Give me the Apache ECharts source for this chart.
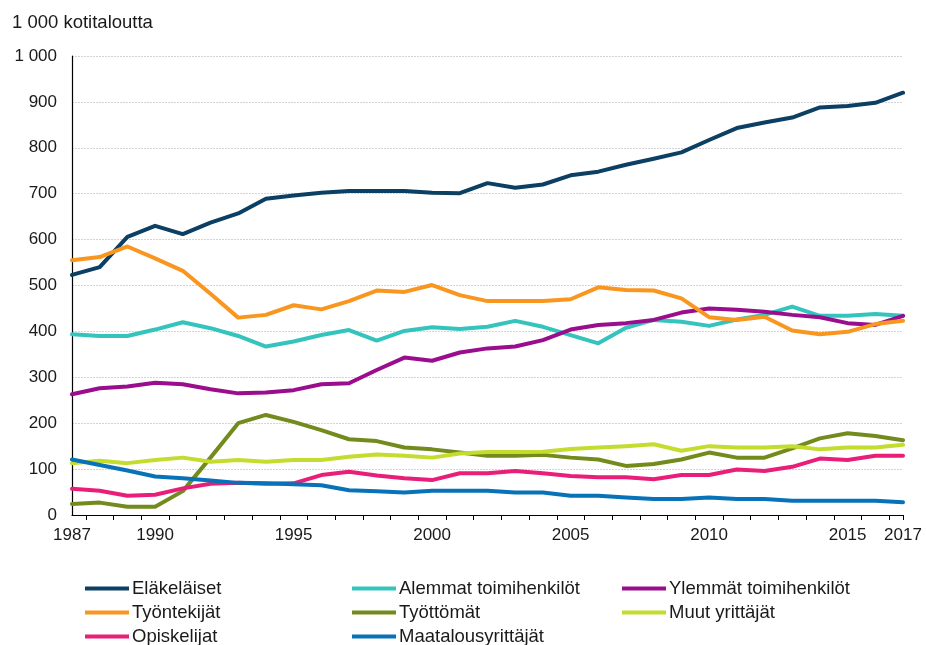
<!DOCTYPE html>
<html>
<head>
<meta charset="utf-8">
<script src="https://cdn.jsdelivr.net/npm/echarts@6/dist/echarts.min.js"></script>
<style>
html,body{margin:0;padding:0;background:#fff;}
#chart{width:926px;height:645px;}
</style>
</head>
<body>
<div id="chart"></div>
<script>
// ---- Data ----
var years = [1987,1988,1989,1990,1991,1992,1993,1994,1995,1996,1997,1998,1999,2000,2001,2002,2003,2004,2005,2006,2007,2008,2009,2010,2011,2012,2013,2014,2015,2016,2017];
var xLabelYears = [1987,1990,1995,2000,2005,2010,2015,2017];
var yTicks = [0,100,200,300,400,500,600,700,800,900,1000];
var unitLabel = '1 000 kotitaloutta';

var seriesNames = ['Eläkeläiset','Alemmat toimihenkilöt','Ylemmät toimihenkilöt','Työntekijät','Työttömät','Muut yrittäjät','Opiskelijat','Maatalousyrittäjät'];

var elakelaiset = [523,540,606,630,612,637,657,689,696,702,706,706,706,702,701,723,713,720,740,748,763,776,790,817,843,855,866,888,891,898,920];
var alemmat     = [394,390,390,404,420,407,390,367,378,392,403,380,401,409,405,410,423,410,392,374,408,425,421,412,426,436,454,434,434,438,434];
var ylemmat     = [263,276,280,288,285,274,265,267,272,285,287,316,343,336,354,363,367,381,404,414,418,425,441,450,447,443,436,431,418,414,434];
var tyontekijat = [555,562,585,559,532,482,430,436,457,448,466,489,486,501,479,466,466,466,470,496,490,489,472,431,425,432,402,394,399,416,423];
var tyottomat   = [24,27,18,18,52,125,200,218,203,185,165,161,147,143,136,129,129,131,125,121,107,111,121,136,125,125,145,167,178,172,163];
var muut        = [113,118,113,120,125,116,120,116,120,120,127,132,129,125,134,137,137,138,144,147,150,154,140,150,147,147,150,143,147,147,153];
var opiskelijat = [57,53,42,44,58,68,70,68,69,87,94,86,80,76,91,91,96,91,85,82,82,78,87,87,99,96,105,123,120,129,129];
var maatalous   = [121,109,97,84,80,75,70,69,67,65,54,52,49,53,53,53,49,49,42,42,38,35,35,38,35,35,31,31,31,31,28];

var seriesValues = [elakelaiset, alemmat, ylemmat, tyontekijat, tyottomat, muut, opiskelijat, maatalous];
var colors = ['#0b3f63','#35c3bd','#9a0d8c','#f9961f','#728b1c','#c4dc2e','#e91e78','#0872b9'];

// ---- Layout ----
var FONT = '"Liberation Sans", Arial, sans-serif';
var legendPos = [
  [85,579],[352,579],[622,579],
  [85,603],[352,603],[622,603],
  [85,627],[352,627]
];

function fmt(v){ return String(v).replace(/\B(?=(\d{3})+(?!\d))/g,' '); }

// tick positions at category boundaries (half-years) plus the end
var tickVals = [];
for (var i = 0; i < years.length - 1; i++) tickVals.push((years[i] + years[i+1]) / 2);
tickVals.push(years[years.length-1]);

var chart = echarts.init(document.getElementById('chart'), null, {renderer:'canvas'});

var series = seriesNames.map(function(name, k){
  return {
    name: name,
    type: 'line',
    data: years.map(function(y, i){ return [y, seriesValues[k][i]]; }),
    showSymbol: false,
    symbol: 'none',
    color: colors[k],
    lineStyle: {width: 4, color: colors[k], cap: 'round', join: 'round'},
    z: 2 + k,
    animation: false
  };
});

var legends = seriesNames.map(function(name, k){
  return {
    data: [name],
    left: legendPos[k][0],
    top: legendPos[k][1],
    icon: 'rect',
    itemWidth: 44,
    itemHeight: 4,
    itemGap: 0,
    selectedMode: false,
    padding: 0,
    textStyle: {fontFamily: FONT, fontSize: 18.5, color: '#1a1a1a', padding: [0,0,0,-2]}
  };
});

chart.setOption({
  backgroundColor: '#fff',
  animation: false,
  title: {
    text: unitLabel,
    left: 12,
    top: 13,
    padding: 0,
    textStyle: {fontFamily: FONT, fontSize: 18.5, fontWeight: 'normal', color: '#1a1a1a'}
  },
  legend: legends,
  grid: {left: 72, right: 23, top: 56, bottom: 130, containLabel: false},
  xAxis: {
    type: 'value',
    min: years[0],
    max: years[years.length-1],
    axisLine: {show: true, lineStyle: {color: '#000', width: 1.2}},
    axisTick: {show: true, length: 5, lineStyle: {color: '#000'}, customValues: tickVals},
    axisLabel: {
      customValues: xLabelYears,
      formatter: function(v){ return String(v); },
      fontFamily: FONT, fontSize: 17, color: '#1a1a1a', margin: 12
    },
    splitLine: {show: false}
  },
  yAxis: {
    type: 'value',
    min: yTicks[0],
    max: yTicks[yTicks.length-1],
    interval: yTicks[1] - yTicks[0],
    axisLine: {show: true, lineStyle: {color: '#000', width: 1.2}},
    axisTick: {show: false},
    axisLabel: {formatter: fmt, fontFamily: FONT, fontSize: 17, color: '#1a1a1a', margin: 15},
    splitLine: {show: true, lineStyle: {color: '#d2d2d8', width: 1, type: [2,1]}}
  },
  series: series
});
</script>
</body>
</html>
